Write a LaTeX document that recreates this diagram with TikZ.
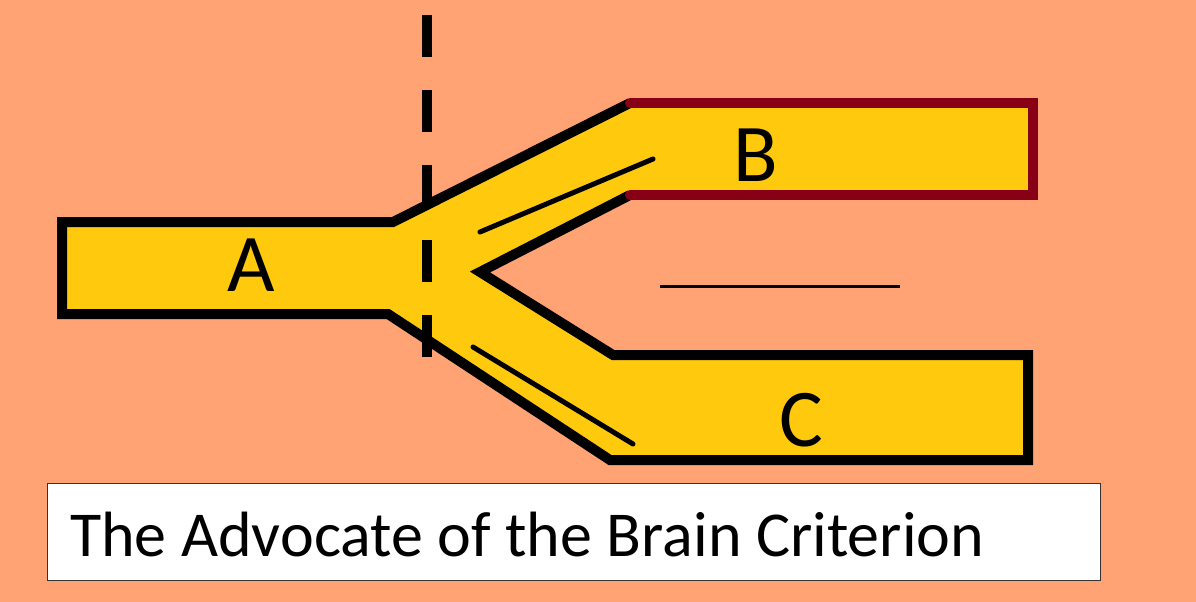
\documentclass[tikz,border=0pt]{standalone}
\usepackage{fontspec}
\setmainfont{Carlito}
\definecolor{bgsalmon}{HTML}{FFA375}
\definecolor{pipeyellow}{HTML}{FFC90E}
\definecolor{darkred}{HTML}{880015}
\tikzset{
  pipeline/.style={line width=10pt, line join=miter},
  letter/.style={font=\fontsize{82}{90}\selectfont, inner sep=0pt},
  thinmark/.style={line width=5pt, line cap=round},
}
\begin{document}
\begin{tikzpicture}[x=1pt,y=-1pt]
\fill[bgsalmon] (0,0) rectangle (1196,602);
\useasboundingbox (0,0) rectangle (1196,602);
% fill of the branching pipe
\fill[pipeyellow] (62,222) -- (393,222) -- (630,103) -- (1033,103) -- (1033,195) -- (630,195)
  -- (480,272) -- (613,355) -- (1028,355) -- (1028,460) -- (610,460) -- (388,314) -- (62,314) -- cycle;
% black outline
\draw[pipeline, black] (630,103) -- (393,222) -- (62,222) -- (62,314) -- (388,314) -- (610,460) -- (1028,460) -- (1028,355) -- (613,355) -- (480,272) -- (630,195);
% dark red outline of B
\draw[pipeline, darkred, line cap=round] (630,103) -- (1033,103) -- (1033,195) -- (630,195);
% dashed vertical line
\coordinate (dtop) at (427,15);
\coordinate (dbot) at (427,357);
\draw[line width=10pt, dash pattern=on 42pt off 33pt] (dtop) -- (dbot);
% inner marks
\coordinate (u1) at (480,232);
\coordinate (u2) at (653,159);
\coordinate (l1) at (473,347);
\coordinate (l2) at (633,444);
\draw[thinmark] (u1) -- (u2);
\draw[thinmark] (l1) -- (l2);
% blank
\coordinate (b1) at (660,286);
\coordinate (b2) at (900,286);
\draw[line width=3pt] (b1) -- (b2);
% labels
\node[letter] (A) at (251,265) {A};
\node[letter] (B) at (756,155) {B};
\node[letter] (C) at (801,420) {C};
% caption box
\node[draw=black!80, line width=1.2pt, fill=white, minimum width=1053pt, minimum height=97pt, anchor=north west, inner sep=0pt] (box) at (47,483) {};
\node[anchor=west, font=\fontsize{64}{70}\selectfont, inner sep=0pt] (cap) at (70,535) {The Advocate of the Brain Criterion};
\end{tikzpicture}
\end{document}
